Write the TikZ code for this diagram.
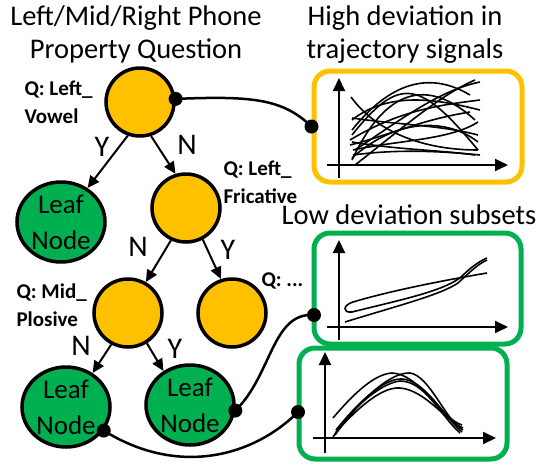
\documentclass[tikz,border=0pt]{standalone}
\usepackage{fontspec}
\setmainfont{Carlito}
\usetikzlibrary{arrows.meta,shapes.geometric}
\definecolor{qorange}{HTML}{FFC000}
\definecolor{qgreen}{HTML}{00B050}
\tikzset{
  qnode/.style={circle,draw=black,line width=3.5pt,fill=qorange,minimum size=68pt,inner sep=0pt},
  leafnode/.style={ellipse,draw=black,line width=3.5pt,fill=qgreen,minimum width=88pt,minimum height=80pt,inner sep=0pt,align=center,font=\fontsize{27}{36}\selectfont},
  qlabel/.style={anchor=west,align=left,font=\bfseries\fontsize{21}{28}\selectfont},
  title/.style={align=center,font=\fontsize{28.5}{33}\selectfont},
  yn/.style={font=\fontsize{30}{32}\selectfont},
  tree/.style={line width=2pt,-{Triangle[length=12pt,width=11pt]}},
  link/.style={line width=2.5pt},
  dot/.style={circle,fill=black,minimum size=14pt,inner sep=0pt},
  obox/.style={draw=qorange,line width=5pt,rounded corners=16pt,fill=white,inner sep=0pt},
  gbox/.style={draw=qgreen,line width=5pt,rounded corners=16pt,fill=white,inner sep=0pt},
  axis/.style={line width=2pt,-{Triangle[length=13pt,width=12pt]}},
  sig/.style={line width=1.6pt}
}
\begin{document}
\begin{tikzpicture}[x=1pt,y=-1pt]
\useasboundingbox (0,0) rectangle (539,464);
% titles
\node[title] (t1) at (136,34) {Left/Mid/Right Phone\\Property Question};
\node[title] (t2) at (405,35) {High deviation in\\trajectory signals};
\node[title] (t3) at (409,215) {Low deviation subsets};
% boxes
\node[obox,minimum width=208pt,minimum height=111pt] (ob) at (418,126.5) {};
\node[gbox,minimum width=207pt,minimum height=111pt] (gb1) at (417.5,288.5) {};
\node[gbox,minimum width=208pt,minimum height=111pt] (gb2) at (403,403.5) {};
% tree nodes
\node[qnode] (q1) at (140,102) {};
\node[leafnode] (l1) at (61,222) {Leaf\\Node};
\node[qnode] (q2) at (186,208) {};
\node[qnode] (q3) at (128,313) {};
\node[qnode] (q4) at (232,313) {};
\node[leafnode] (l2) at (66,407) {Leaf\\Node};
\node[leafnode] (l3) at (190,405) {Leaf\\Node};
% labels
\node[qlabel] (lb1) at (21,102) {Q: Left\_\\Vowel};
\node[qlabel] (lb2) at (220,182) {Q: Left\_\\Fricative};
\node[qlabel] (lb3) at (13,305) {Q: Mid\_\\Plosive};
\node[qlabel] (lb4) at (258,281) {Q: ...};
% tree arrows
\draw[tree] (q1.-110) -- (l1.52);
\draw[tree] (q1.-72) -- (q2.107);
\draw[tree] (q2.-115) -- (q3.60);
\draw[tree] (q2.-62) -- (q4.108);
\draw[tree] (q3.-118) -- (l2.52);
\draw[tree] (q3.-58) -- (l3.128);
\node[yn] (y1) at (102,147) {Y};
\node[yn] (n1) at (187,145) {N};
\node[yn] (n2) at (138,247) {N};
\node[yn] (y2) at (228,250) {Y};
\node[yn] (n3) at (81,346) {N};
\node[yn] (y3) at (175,349) {Y};
% connectors
\draw[link] (q1.5) .. controls (250,96) and (282,98) .. (ob.west);
\draw[link] (l3.-7) .. controls (272,375) and (272,312) .. (314,315);
\draw[link] (l2.-32) .. controls (180,478) and (255,455) .. (298,412);
\node[dot] (d1) at (q1.5) {};
\node[dot] (d2) at (ob.west) {};
\node[dot] (d3) at (l3.-7) {};
\node[dot] (d4) at (314,315) {};
\node[dot] (d5) at (l2.-32) {};
\node[dot] (d6) at (298,412) {};
% axes orange
\draw[axis] (339,178) -- (339,78);
\draw[axis] (327,165) -- (508,165);
\begin{scope}[sig]
\draw (352,160) .. controls (380,100) and (420,70) .. (475,120);
\draw (355,150) .. controls (400,120) and (440,90) .. (480,82);
\draw (350,140) .. controls (400,110) and (440,105) .. (480,100);
\draw (352,120) .. controls (390,90) and (440,100) .. (480,110);
\draw (351,97) .. controls (375,130) and (420,150) .. (478,150);
\draw (353,155) .. controls (390,150) and (430,150) .. (480,155);
\draw (352,118) .. controls (400,125) and (440,125) .. (478,135);
\draw (355,165) .. controls (400,130) and (440,95) .. (475,80);
\draw (352,135) .. controls (400,75) and (420,80) .. (478,150);
\draw (350,145) .. controls (390,135) and (420,120) .. (470,112);
\draw (352,130) .. controls (380,95) and (420,65) .. (470,95);
\draw (353,150) .. controls (400,140) and (450,140) .. (478,122);
\draw (352,158) .. controls (400,115) and (450,120) .. (478,142);
\draw (352,142) .. controls (400,150) and (440,150) .. (475,155);
\end{scope}
% axes green 1
\draw[axis] (339,340) -- (339,240);
\draw[axis] (327,327) -- (508,327);
\begin{scope}[sig]
\draw (345,322) .. controls (400,305) and (440,295) .. (458,283) .. controls (470,272) and (478,264) .. (487,260);
\draw (487,273) .. controls (440,281) and (390,291) .. (353,302) .. controls (343,305) and (342,313) .. (352,312) .. controls (400,300) and (440,292) .. (460,278) .. controls (470,268) and (478,262) .. (487,258);
\end{scope}
% axes green 2
\draw[axis] (325,453) -- (325,352);
\draw[axis] (313,438) -- (496,438);
\begin{scope}[sig]
\draw (333,418) .. controls (355,392) and (375,374) .. (392,373) .. controls (420,374) and (440,418) .. (462,425);
\draw (335,435) .. controls (360,400) and (390,372) .. (410,373) .. controls (430,376) and (445,420) .. (463,430);
\draw (336,432) .. controls (365,400) and (385,387) .. (400,388) .. controls (425,390) and (445,420) .. (463,428);
\draw (333,437) .. controls (350,410) and (380,383) .. (400,381) .. controls (425,381) and (440,415) .. (460,433);
\draw (336,430) .. controls (360,400) and (385,378) .. (402,379) .. controls (425,380) and (445,418) .. (462,432);
\end{scope}
\end{tikzpicture}
\end{document}
